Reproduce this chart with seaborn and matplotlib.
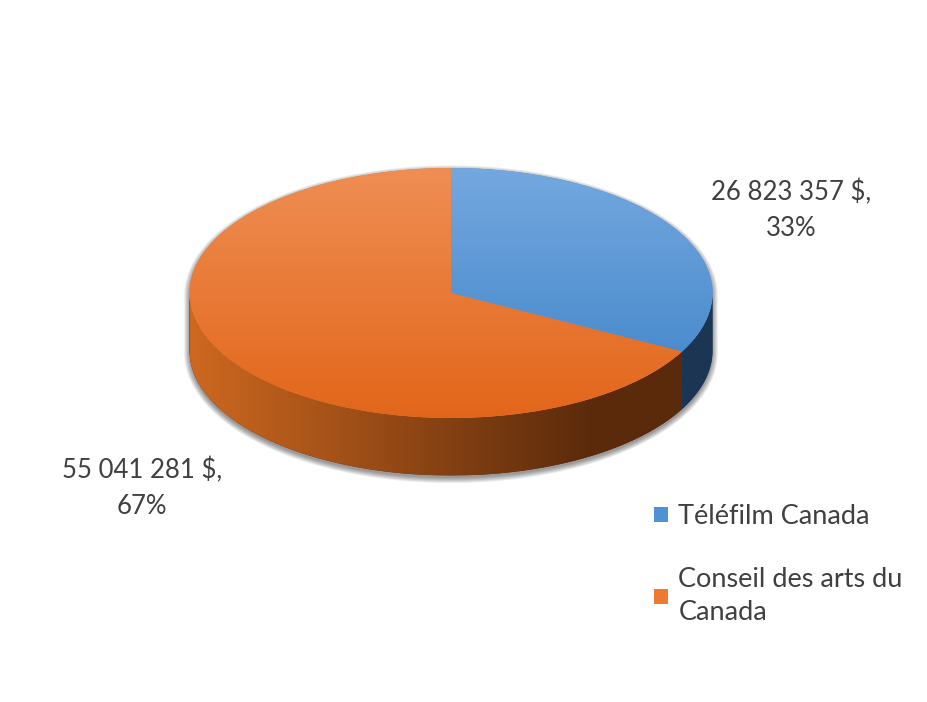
import numpy as np
import seaborn as sns
import matplotlib.pyplot as plt
from matplotlib.colors import LinearSegmentedColormap
from matplotlib.patches import Polygon

labels = ['Téléfilm Canada', 'Conseil des arts du Canada']
legend_labels = ['Téléfilm Canada', 'Conseil des arts du\nCanada']
amounts = [26823357, 55041281]
value_labels = ['26 823 357 $,\n33%', '55 041 281 $,\n67%']

sns.set_theme(style='white')
plt.rcParams['font.family'] = ['Lato', 'DejaVu Sans']

# top face (light -> dark, top to bottom) and side wall (left -> right)
top_colors = [('#74a8df', '#3d82c7'), ('#ef8e54', '#e2661a')]
side_colors = [('#24446a', '#1b3553'), ('#cd6820', '#5a2a0b')]
flat_colors = ['#4e92d5', '#ed7a30']
text_color = '#404040'

depth = 0.46          # thickness of the pie, in radius units
rx, ry = 261.5, 125   # pixel half-axes of the top ellipse
cx, cy = 451, 293     # pixel centre of the top ellipse

fig = plt.figure(figsize=(9.28, 7.02), dpi=100)
ax = fig.add_axes([0, 0, 1, 1])


def outline(grow=0.0, drop=0.0):
    t = np.linspace(0, 2 * np.pi, 400)
    x = (1 + grow) * np.cos(t)
    y = (1 + grow * 2) * np.sin(t) + np.where(np.sin(t) < 0, -depth, 0) - drop
    return np.column_stack([x, y])


# soft drop shadow under the extruded pie
for k in range(6):
    ax.add_patch(Polygon(outline(0.004 * k, 0.02), closed=True,
                         facecolor='black', alpha=0.08, linewidth=0, zorder=0))

wedges, _ = ax.pie(amounts, startangle=90, counterclock=False,
                   colors=flat_colors, wedgeprops=dict(linewidth=0, zorder=3))

# side walls, only the front half (sin < 0) is visible
for w, (c1, c2) in zip(wedges, side_colors):
    t = np.linspace(w.theta1, w.theta2, 3000)
    t = np.radians(t[np.sin(np.radians(t)) <= 0])
    if len(t) < 2:
        continue
    top = np.column_stack([np.cos(t), np.sin(t)])
    bot = np.column_stack([np.cos(t), np.sin(t) - depth])[::-1]
    poly = Polygon(np.vstack([top, bot]), closed=True, facecolor=c2,
                   linewidth=0, zorder=1)
    ax.add_patch(poly)
    gx = np.clip((np.linspace(-1, 1, 256) + 1) / 1.55, 0, 1)[None, :]
    cmap = LinearSegmentedColormap.from_list('side', [c1, c2])
    im = ax.imshow(gx, cmap=cmap, extent=(-1, 1, -1 - depth, 0),
                   aspect='auto', zorder=2, vmin=0, vmax=1)
    im.set_clip_path(poly)

# gradient on the top faces
for w, (c1, c2) in zip(wedges, top_colors):
    cmap = LinearSegmentedColormap.from_list('top', [c1, c2])
    gy = np.linspace(0, 1, 256)[:, None]
    im = ax.imshow(gy, cmap=cmap, extent=(-1, 1, -1, 1), aspect='auto',
                   zorder=4, vmin=0, vmax=1, origin='upper')
    im.set_clip_path(w)

# value labels
ax.text((791 - cx) / rx, (cy - 210) / ry, value_labels[0], ha='center',
        va='center', fontsize=18.5, color=text_color, linespacing=1.55, zorder=6)
ax.text((142 - cx) / rx, (cy - 488) / ry, value_labels[1], ha='center',
        va='center', fontsize=18.5, color=text_color, linespacing=1.55, zorder=6)

leg = ax.legend(wedges, legend_labels, loc='upper left',
                bbox_to_anchor=(654 / 928, 1 - 504 / 702),
                bbox_transform=fig.transFigure, frameon=False, fontsize=19.5,
                handlelength=0.5, handleheight=0.5, handletextpad=0.4,
                labelspacing=1.4, borderpad=0, borderaxespad=0)
for txt in leg.get_texts():
    txt.set_color(text_color)
    txt.set_linespacing(1.4)

ax.set_aspect('auto')
ax.set_xlim(-cx / rx, (928 - cx) / rx)
ax.set_ylim(-(702 - cy) / ry, cy / ry)
ax.axis('off')

fig.savefig('out.png', dpi=100)
